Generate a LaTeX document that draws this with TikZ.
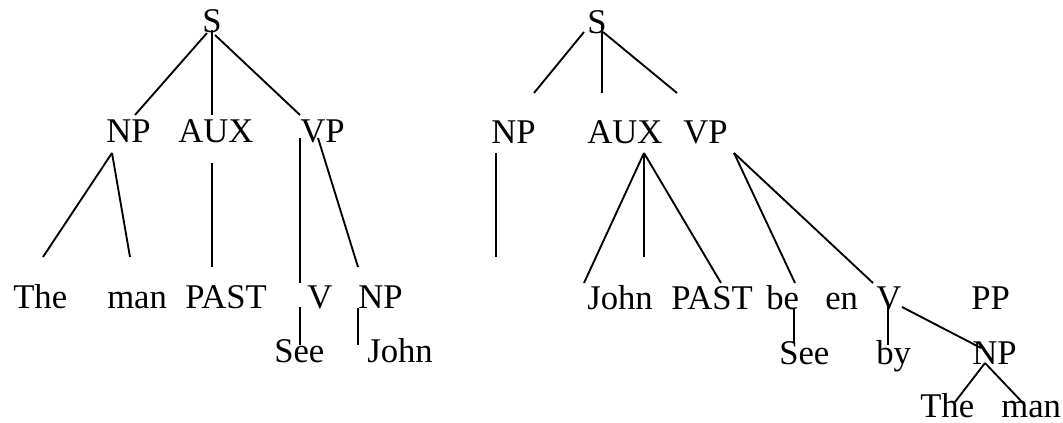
\documentclass[tikz,border=0pt]{standalone}
\usepackage{fontspec}
\setmainfont{Liberation Serif}
\begin{document}
\begin{tikzpicture}[x=0.75pt,y=-0.75pt,
  lbl/.style={anchor=base west, inner sep=0pt, font=\fontsize{26}{30}\selectfont},
  edge/.style={line width=1.4pt}]
\useasboundingbox (0,0) rectangle (1063,423);
% ---------- left tree: labels ----------
\node[lbl] (lS) at (202,33) {S};
\node[lbl] (lNP) at (106,143) {NP};
\node[lbl] (lAUX) at (178,143) {AUX};
\node[lbl] (lVP) at (300,143) {VP};
\node[lbl] (lThe) at (13,309) {The};
\node[lbl] (lman) at (107,309) {man};
\node[lbl] (lPAST) at (185,309) {PAST};
\node[lbl] (lV) at (307,309) {V};
\node[lbl] (lNPb) at (358,309) {NP};
\node[lbl] (lSee) at (274,363) {See};
\node[lbl] (lJohn) at (367,363) {John};
% ---------- left tree: line ends ----------
\coordinate (a1) at (207,33);  \coordinate (a2) at (135,115);
\coordinate (b1) at (212,30);  \coordinate (b2) at (212,115);
\coordinate (c1) at (215,35);  \coordinate (c2) at (300,115);
\coordinate (d1) at (112,153); \coordinate (d2) at (43,257);
\coordinate (e2) at (130,257);
\coordinate (f1) at (212,163); \coordinate (f2) at (212,267);
\coordinate (g1) at (300,138); \coordinate (g2) at (300,283);
\coordinate (h1) at (318,138); \coordinate (h2) at (358,267);
\coordinate (i1) at (300,307); \coordinate (i2) at (300,345);
\coordinate (j1) at (358,308); \coordinate (j2) at (358,345);
\draw[edge] (a1) -- (a2);
\draw[edge] (b1) -- (b2);
\draw[edge] (c1) -- (c2);
\draw[edge] (d1) -- (d2);
\draw[edge] (d1) -- (e2);
\draw[edge] (f1) -- (f2);
\draw[edge] (g1) -- (g2);
\draw[edge] (h1) -- (h2);
\draw[edge] (i1) -- (i2);
\draw[edge] (j1) -- (j2);
% ---------- right tree: labels ----------
\node[lbl] (rS) at (587,34) {S};
\node[lbl] (rNP) at (491,144) {NP};
\node[lbl] (rAUX) at (587,144) {AUX};
\node[lbl] (rVP) at (683,144) {VP};
\node[lbl] (rJohn) at (587,310) {John};
\node[lbl] (rPAST) at (671,310) {PAST};
\node[lbl] (rbe) at (766,310) {be};
\node[lbl] (ren) at (825,310) {en};
\node[lbl] (rV) at (876,310) {V};
\node[lbl] (rPP) at (971,310) {PP};
\node[lbl] (rSee) at (779,365) {See};
\node[lbl] (rby) at (876,365) {by};
\node[lbl] (rNPb) at (972,365) {NP};
\node[lbl] (rThe) at (920,417) {The};
\node[lbl] (rman) at (1001,417) {man};
% ---------- right tree: line ends ----------
\coordinate (k1) at (584,32);  \coordinate (k2) at (534,93);
\coordinate (l1) at (602,23);  \coordinate (l2) at (602,93);
\coordinate (m1) at (603,32);  \coordinate (m2) at (677,93);
\coordinate (n1) at (496,153); \coordinate (n2) at (496,257);
\coordinate (o1) at (644,153); \coordinate (o2) at (584,283);
\coordinate (o3) at (644,257); \coordinate (o4) at (721,283);
\coordinate (p1) at (734,153); \coordinate (p2) at (795,283);
\coordinate (p3) at (873,283);
\coordinate (q1) at (794,308); \coordinate (q2) at (794,343);
\coordinate (s1) at (888,305); \coordinate (s2) at (888,345);
\coordinate (t1) at (902,307); \coordinate (t2) at (981,348);
\coordinate (u1) at (985,363); \coordinate (u2) at (955,402);
\coordinate (u3) at (1023,403);
\draw[edge] (k1) -- (k2);
\draw[edge] (l1) -- (l2);
\draw[edge] (m1) -- (m2);
\draw[edge] (n1) -- (n2);
\draw[edge] (o1) -- (o2);
\draw[edge] (o1) -- (o3);
\draw[edge] (o1) -- (o4);
\draw[edge] (p1) -- (p2);
\draw[edge] (p1) -- (p3);
\draw[edge] (q1) -- (q2);
\draw[edge] (s1) -- (s2);
\draw[edge] (t1) -- (t2);
\draw[edge] (u1) -- (u2);
\draw[edge] (u1) -- (u3);
\end{tikzpicture}
\end{document}
